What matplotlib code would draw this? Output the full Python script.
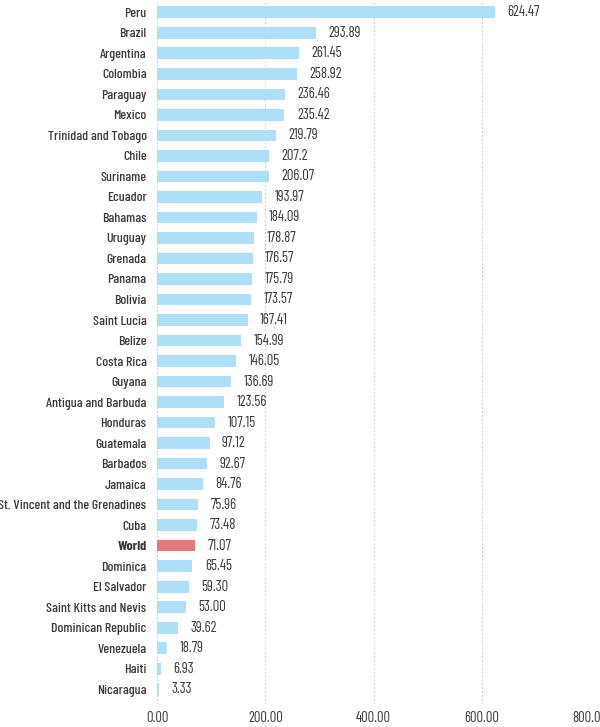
import matplotlib
matplotlib.use("Agg")
import matplotlib.pyplot as plt
from matplotlib import font_manager
from matplotlib.transforms import ScaledTranslation

countries = ["Peru", "Brazil", "Argentina", "Colombia", "Paraguay", "Mexico",
             "Trinidad and Tobago", "Chile", "Suriname", "Ecuador", "Bahamas",
             "Uruguay", "Grenada", "Panama", "Bolivia", "Saint Lucia", "Belize",
             "Costa Rica", "Guyana", "Antigua and Barbuda", "Honduras",
             "Guatemala", "Barbados", "Jamaica", "St. Vincent and the Grenadines",
             "Cuba", "World", "Dominica", "El Salvador", "Saint Kitts and Nevis",
             "Dominican Republic", "Venezuela", "Haiti", "Nicaragua"]
values = [624.47, 293.89, 261.45, 258.92, 236.46, 235.42, 219.79, 207.2,
          206.07, 193.97, 184.09, 178.87, 176.57, 175.79, 173.57, 167.41,
          154.99, 146.05, 136.69, 123.56, 107.15, 97.12, 92.67, 84.76, 75.96,
          73.48, 71.07, 65.45, 59.30, 53.00, 39.62, 18.79, 6.93, 3.33]
labels = ["624.47", "293.89", "261.45", "258.92", "236.46", "235.42", "219.79",
          "207.2", "206.07", "193.97", "184.09", "178.87", "176.57", "175.79",
          "173.57", "167.41", "154.99", "146.05", "136.69", "123.56", "107.15",
          "97.12", "92.67", "84.76", "75.96", "73.48", "71.07", "65.45", "59.30",
          "53.00", "39.62", "18.79", "6.93", "3.33"]
xticks = [0, 200, 400, 600, 800]

# pick a condensed face if one is around
names = {f.name for f in font_manager.fontManager.ttflist}
wanted = ["Barlow Condensed", "Roboto Condensed", "Saira Condensed",
          "PT Sans Narrow", "Archivo Narrow", "Liberation Sans Narrow"]
fam = next((w for w in wanted if w in names), "DejaVu Sans")
plt.rcParams["font.family"] = [fam, "DejaVu Sans"]

fig = plt.figure(figsize=(6, 7.27), dpi=100)
ax = fig.add_axes([0.2617, 0.031, 0.7217, 0.966])

colors = ["#e07a80" if c == "World" else "#aedff7" for c in countries]
ypos = list(range(len(countries)))
ax.barh(ypos, values, height=0.58, color=colors, zorder=2)

for y, v, s in zip(ypos, values, labels):
    ax.annotate(s, (v, y), xytext=(9, 0), textcoords="offset points",
                va="center", ha="left", fontsize=10.5, color="#3a3a3a")

ax.set_xlim(0, 800)
ax.set_ylim(len(countries) - 0.25, -0.5)
ax.set_yticks(ypos)
ax.set_yticklabels(countries, fontsize=10, color="#3a3a3a", fontweight="medium")
for lab in ax.get_yticklabels():
    if lab.get_text() == "World":
        lab.set_fontweight("bold")
ax.set_xticks(xticks)
ax.set_xticklabels(["%.2f" % t for t in xticks], fontsize=10.5, color="#3a3a3a")
shift = ScaledTranslation(-6 / 100, 0, fig.dpi_scale_trans)
for lab in ax.get_xticklabels():
    lab.set_transform(lab.get_transform() + shift)
ax.tick_params(length=0, pad=7.5)
ax.tick_params(axis="x", pad=5)
for sp in ax.spines.values():
    sp.set_visible(False)
ax.grid(axis="x", linestyle=(0, (1.5, 2)), color="#cccccc", linewidth=0.8, zorder=0)

fig.savefig("out.png", dpi=100)
